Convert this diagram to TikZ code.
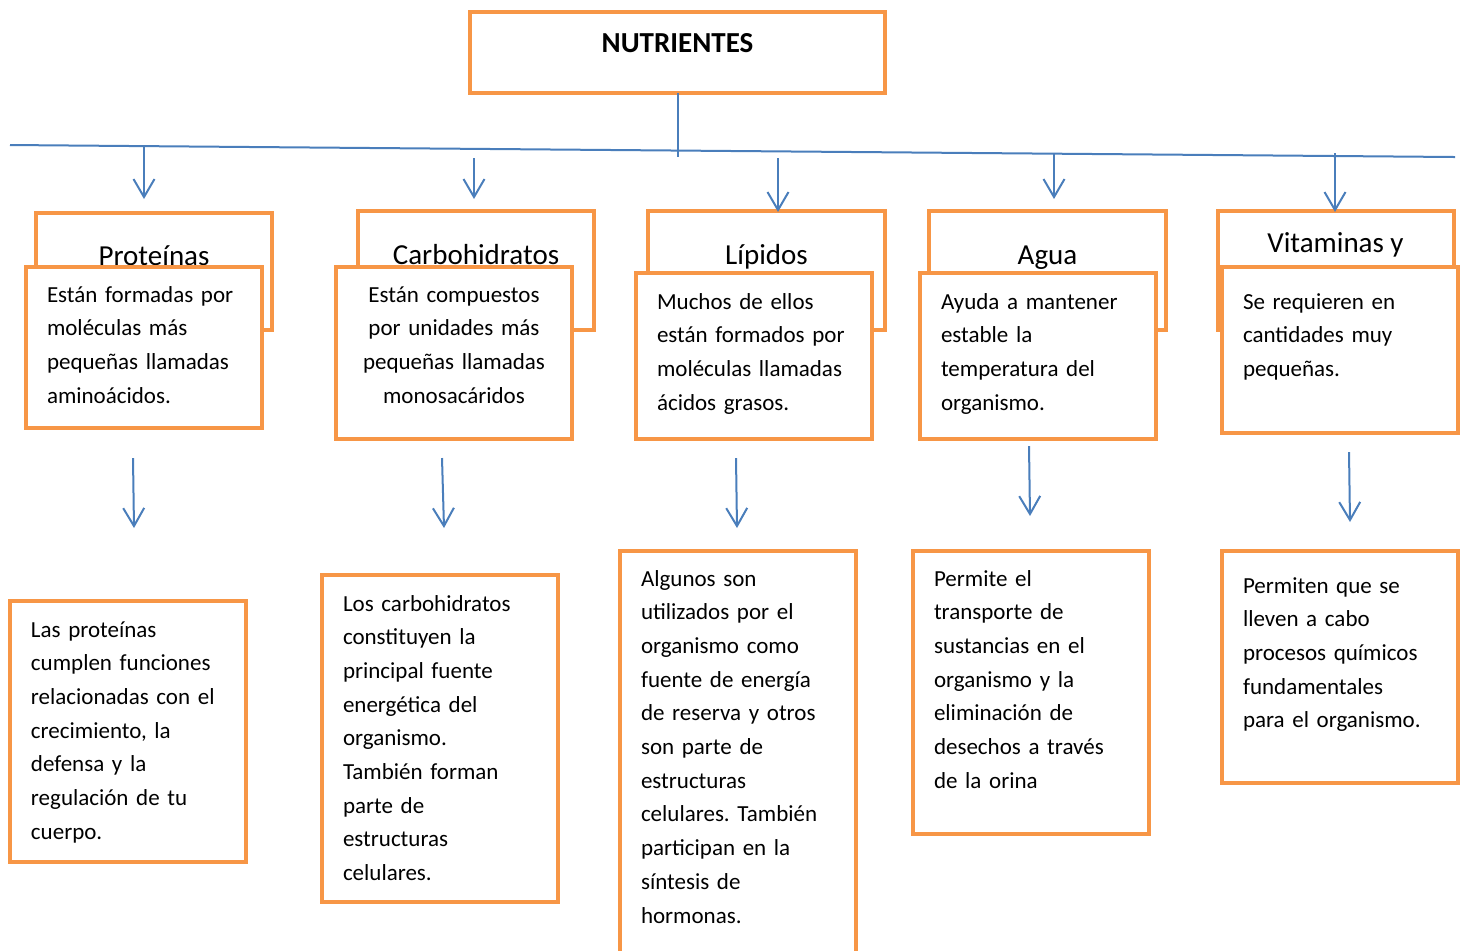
\documentclass[tikz,border=0pt]{standalone}
\usepackage{fontspec}
\setmainfont{Carlito}
\usetikzlibrary{arrows.meta}
\definecolor{naranja}{RGB}{247,150,70}
\definecolor{azul}{RGB}{74,126,187}
\frenchspacing
\tikzset{
caja/.style={draw=naranja, line width=2pt, fill=white, rectangle, inner ysep=0pt, outer sep=0pt},
fondo/.style={caja, anchor=base, minimum width=118pt, font=\fontsize{14.5}{17}\selectfont},
desc/.style={caja, anchor=base west, text width=97pt, inner xsep=10.5pt, align=left, font=\fontsize{11.5}{16.85}\selectfont},
flecha/.style={azul, line width=1pt, -{Straight Barb[length=9pt,width=10.5pt]}},
linea/.style={azul, line width=1pt}
}
\begin{document}
\begin{tikzpicture}[x=0.5pt, y=-0.5pt]
\useasboundingbox (0,0) rectangle (1465,950);

\node (nutrientes)[caja, anchor=base, minimum width=207.5pt, text height=20pt, text depth=20.5pt, font=\bfseries\fontsize{14.5}{17}\selectfont] at (677.5,52){NUTRIENTES};
\coordinate (izq) at (10,145);
\coordinate (der) at (1455,157);
\coordinate (cruce) at (677.5,157);
\draw [linea](izq)--(der);
\draw [linea](nutrientes.south)--(cruce);

\node (proteinas)[fondo, text height=26pt, text depth=32.5pt] at (154,265){Proteínas};
\node (protdesc)[desc, text height=17.5pt, text depth=63pt] at (26,302){Están formadas por\\ moléculas más\\ pequeñas llamadas\\ aminoácidos.};
\node (protfun)[desc, text height=18pt, text depth=112.5pt] at (10,637){Las proteínas\\ cumplen funciones\\ relacionadas con el\\ crecimiento, la\\ defensa y la\\ regulación de tu\\ cuerpo.};

\node (carbohidratos)[fondo, text height=26.5pt, text depth=33pt] at (476,264){Carbohidratos};
\node (carbdesc)[desc, align=center, text height=17.5pt, text depth=68.5pt] at (336,302){Están compuestos\\ por unidades más\\ pequeñas llamadas\\ monosacáridos};
\node (carbfun)[desc, text height=18pt, text depth=145.5pt] at (322,611){Los carbohidratos\\ constituyen la\\ principal fuente\\ energética del\\ organismo.\\ También forman\\ parte de\\ estructuras\\ celulares.};

\node (lipidos)[fondo, minimum width=118.5pt, text height=26.5pt, text depth=33pt] at (766.5,264){Lípidos};
\node (lipdesc)[desc, text height=18pt, text depth=65pt] at (636,309){Muchos de ellos\\ están formados por\\ moléculas llamadas\\ ácidos grasos.};
\node (lipfun)[desc, text height=17.5pt, text depth=202pt] at (620,586){Algunos son\\ utilizados por el\\ organismo como\\ fuente de energía\\ de reserva y otros\\ son parte de\\ estructuras\\ celulares. También\\ participan en la\\ síntesis de\\ hormonas.};

\node (agua)[fondo, minimum width=118.5pt, text height=26.5pt, text depth=33pt] at (1047.5,264){Agua};
\node (aguadesc)[desc, text height=18pt, text depth=65pt] at (920,309){Ayuda a mantener\\ estable la\\ temperatura del\\ organismo.};
\node (aguafun)[desc, text height=17.5pt, text depth=124pt] at (913,586){Permite el\\ transporte de\\ sustancias en el\\ organismo y la\\ eliminación de\\ desechos a través\\ de la orina};

\node (vitaminas)[fondo, text height=20.5pt, text depth=39pt] at (1335.5,252){Vitaminas y};
\node (vitdesc)[desc, text height=21pt, text depth=62pt] at (1222,309){Se requieren en\\ cantidades muy\\ pequeñas.};
\node (vitfun)[desc, text height=21pt, text depth=95pt] at (1222,593){Permiten que se\\ lleven a cabo\\ procesos químicos\\ fundamentales\\ para el organismo.};

\coordinate (p1) at (144,146);
\coordinate (p2) at (144,199);
\coordinate (p3) at (133,458);
\coordinate (p4) at (134,528);
\draw [flecha](p1)--(p2);
\draw [flecha](p3)--(p4);

\coordinate (c1) at (474,158);
\coordinate (c2) at (474,199);
\coordinate (c3) at (442,458);
\coordinate (c4) at (444,528);
\draw [flecha](c1)--(c2);
\draw [flecha](c3)--(c4);

\coordinate (l1) at (778,158);
\coordinate (l2) at (778,212);
\coordinate (l3) at (736,458);
\coordinate (l4) at (737,528);
\draw [flecha](l1)--(l2);
\draw [flecha](l3)--(l4);

\coordinate (a1) at (1054,153);
\coordinate (a2) at (1054,199);
\coordinate (a3) at (1029,446);
\coordinate (a4) at (1030,516);
\draw [flecha](a1)--(a2);
\draw [flecha](a3)--(a4);

\coordinate (v1) at (1335,153);
\coordinate (v2) at (1335,212);
\coordinate (v3) at (1349,452);
\coordinate (v4) at (1350,522);
\draw [flecha](v1)--(v2);
\draw [flecha](v3)--(v4);
\end{tikzpicture}
\end{document}
